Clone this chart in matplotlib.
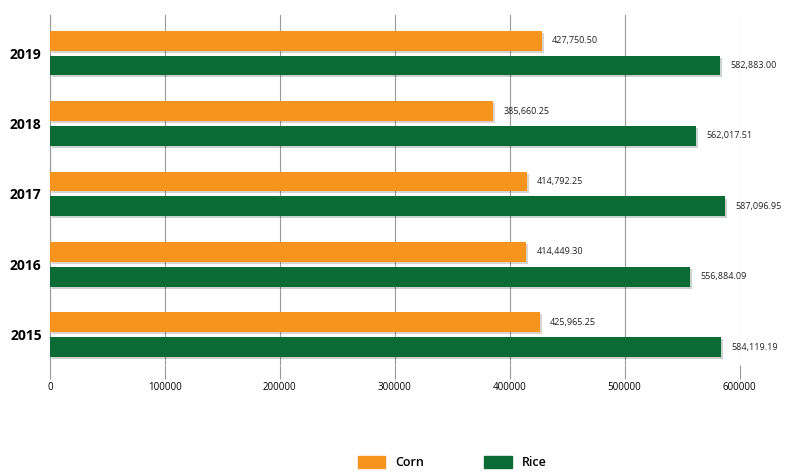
import matplotlib.pyplot as plt
import matplotlib.patheffects as pe
from matplotlib.patches import Patch
import numpy as np

years = ['2015', '2016', '2017', '2018', '2019']
corn = [425965.25, 414449.30, 414792.25, 385660.25, 427750.50]
rice = [584119.19, 556884.09, 587096.95, 562017.51, 582883.00]

orange = '#F7941D'
green = '#0B6B35'

plt.rcParams['font.family'] = ['Open Sans', 'DejaVu Sans']

fig = plt.figure(figsize=(7.88, 4.72), dpi=100)
ax = fig.add_axes([0.0635, 0.227, 0.875, 0.741])

y = np.arange(len(years))
h = 0.28
off = 0.177
shadow = [pe.SimplePatchShadow(offset=(1.5, -1.5), alpha=0.2), pe.Normal()]
b1 = ax.barh(y + off, corn, height=h, color=orange, zorder=3)
b2 = ax.barh(y - off, rice, height=h, color=green, zorder=3)
for b in list(b1) + list(b2):
    b.set_path_effects(shadow)

for yi, v in zip(y + off, corn):
    ax.text(v + 9000, yi, f'{v:,.2f}', va='center', ha='left', fontsize=6.5, color='#222222')
for yi, v in zip(y - off, rice):
    ax.text(v + 9000, yi, f'{v:,.2f}', va='center', ha='left', fontsize=6.5, color='#222222')

ax.set_xlim(0, 600000)
ax.set_ylim(-0.43, 4.54)
ax.set_xticks(np.arange(0, 600001, 100000))
ax.set_xticklabels([str(t) for t in range(0, 600001, 100000)], fontsize=7)
ax.set_yticks(y)
ax.set_yticklabels(years, fontsize=10, fontweight='bold')
ax.tick_params(axis='y', length=0, pad=6)
ax.tick_params(axis='x', length=10, color='#999999', pad=2)
ax.grid(axis='x', color='#999999', linewidth=0.8, zorder=0)
for s in ['top', 'right', 'bottom']:
    ax.spines[s].set_visible(False)
ax.spines['left'].set_color('#999999')

handles = [Patch(color=orange), Patch(color=green)]
fig.legend(handles=handles, labels=['Corn', 'Rice'], loc='lower center',
           bbox_to_anchor=(0.574, -0.018), ncol=2, frameon=False,
           prop={'size': 9, 'weight': 'semibold'},
           handlelength=2.2, handleheight=1.2, columnspacing=4.8)

fig.savefig('out.png', dpi=100)
